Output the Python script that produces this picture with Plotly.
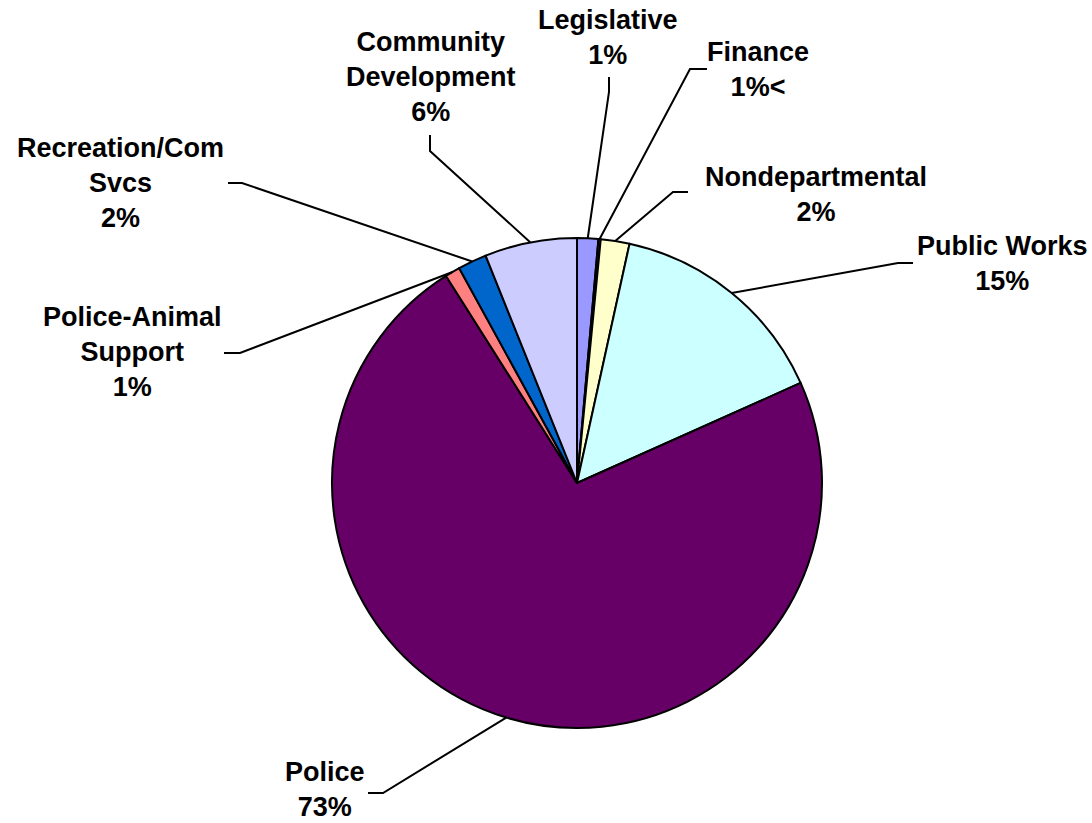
import math
import plotly.graph_objects as go

# ---- data ----
departments = ["Legislative", "Finance", "Nondepartmental", "Public Works",
               "Police", "Police-Animal Support", "Recreation/Com Svcs",
               "Community Development"]
shares = [1.4, 0.15, 1.9, 14.9, 72.9, 1.0, 1.9, 6.1]
label_texts = ["Legislative<br>1%", "Finance<br>1%<", "Nondepartmental<br>2%",
               "Public Works<br>15%", "Police<br>73%",
               "Police-Animal<br>Support<br>1%", "Recreation/Com<br>Svcs<br>2%",
               "Community<br>Development<br>6%"]
colors = ["#9999FF", "#993366", "#FFFFCC", "#CCFFFF", "#660066", "#FF8080",
          "#0066CC", "#CCCCFF"]

# ---- layout (pixels) ----
W, H = 1092, 823
CX, CY, R = 577, 483, 245
# label center, elbow point, end point of leader (pixels)
label_pos = [(608, 38), (758, 69), (816, 194), (1002, 263), (325, 789),
             (132, 352), (120, 183), (431, 77)]
elbows = [(609, 92), (690, 69), (673, 192), (898, 263), (383, 793),
          (240, 353), (242, 183), (430, 151)]
ends = [(609, 77), (707, 69), (688, 192), (913, 263), (368, 793),
        (224, 353), (228, 183), (430, 135)]


def px(x):
    return x / W


def py(y):
    return 1 - y / H


fig = go.Figure(go.Pie(
    labels=departments, values=shares, sort=False, direction="clockwise",
    rotation=0, textinfo="none", hoverinfo="label+percent",
    marker=dict(colors=colors, line=dict(color="black", width=2)),
    domain=dict(x=[px(CX - R), px(CX + R)], y=[py(CY + R), py(CY - R)]),
    showlegend=False,
))

total = sum(shares)
cum = 0.0
shapes = []
annotations = []
for i, v in enumerate(shares):
    mid = (cum + v / 2) / total * 2 * math.pi
    cum += v
    ex, ey = CX + R * math.sin(mid), CY - R * math.cos(mid)
    (bx, by), (tx, ty) = elbows[i], ends[i]
    path = f"M {px(ex)} {py(ey)} L {px(bx)} {py(by)} L {px(tx)} {py(ty)}"
    shapes.append(dict(type="path", path=path, xref="paper", yref="paper",
                       line=dict(color="black", width=2)))
    lx, ly = label_pos[i]
    annotations.append(dict(x=px(lx), y=py(ly), xref="paper", yref="paper",
                            text=label_texts[i], showarrow=False,
                            xanchor="center", yanchor="middle", align="center",
                            font=dict(family="Liberation Sans, Arial", size=27,
                                      color="black", weight="bold")))

fig.update_layout(width=W, height=H, margin=dict(l=0, r=0, t=0, b=0),
                  paper_bgcolor="white", plot_bgcolor="white",
                  shapes=shapes, annotations=annotations)

fig.write_html("out.html", config={"displayModeBar": False},
               post_script="document.body.style.margin='0';"
                           "document.body.style.overflow='hidden';")
